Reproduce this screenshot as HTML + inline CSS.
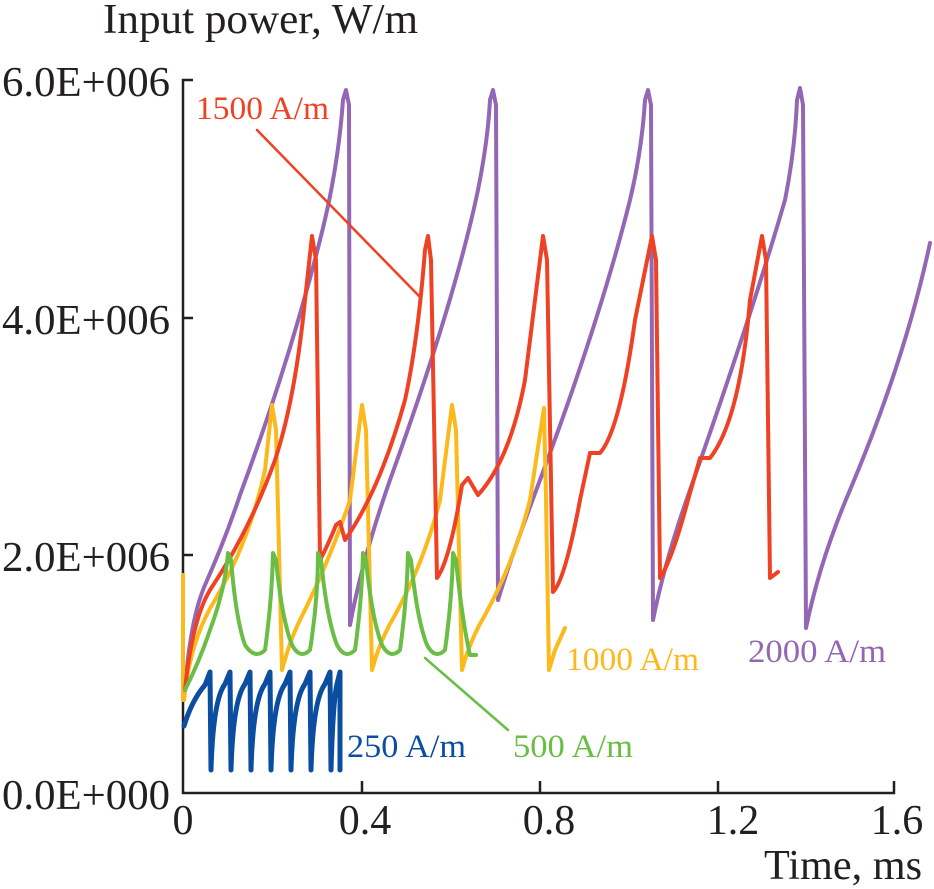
<!DOCTYPE html>
<html><head><meta charset="utf-8"><style>html,body{margin:0;padding:0;background:#fff}svg{display:block}text{font-family:"Liberation Serif",serif}</style></head>
<body>
<svg width="934" height="889" viewBox="0 0 934 889" xmlns="http://www.w3.org/2000/svg">
<rect width="934" height="889" fill="#fff"/>
<g stroke="#231f20" stroke-width="2.5" fill="none">
<path d="M193,80 H183 V793 H894 V781"/>
<path d="M183,318 H193 M183,555 H193 M362,793 V781 M540,793 V781 M718,793 V781"/>
</g>
<g font-size="42" fill="#231f20">
<text x="103" y="33" textLength="315" lengthAdjust="spacingAndGlyphs">Input power, W/m</text>
<text x="2" y="96" textLength="168" lengthAdjust="spacingAndGlyphs">6.0E+006</text>
<text x="2" y="334" textLength="168" lengthAdjust="spacingAndGlyphs">4.0E+006</text>
<text x="2" y="571" textLength="168" lengthAdjust="spacingAndGlyphs">2.0E+006</text>
<text x="2" y="809" textLength="168" lengthAdjust="spacingAndGlyphs">0.0E+000</text>
<text x="183" y="834" text-anchor="middle">0</text>
<text x="365" y="834" text-anchor="middle">0.4</text>
<text x="549" y="834" text-anchor="middle">0.8</text>
<text x="733" y="834" text-anchor="middle">1.2</text>
<text x="897" y="834" text-anchor="middle">1.6</text>
<text x="764" y="879" textLength="158" lengthAdjust="spacingAndGlyphs">Time, ms</text>
</g>
<g fill="none" stroke-linejoin="round" stroke-linecap="round">
<path stroke="#9467b4" stroke-width="4" d="M185,690 Q190,620 205,585 Q225,540 240,495 Q290,360 320,240 Q338,170 343,100 L346,90 L349,105 L350,625 Q362,560 390,480 Q455,300 478,190 Q488,140 490,100 L493,90 L496,105 L498,600 Q510,560 540,480 Q600,320 630,200 Q642,150 645,100 L648,90 L651,105 L653,620 Q665,560 690,490 Q750,320 785,200 Q795,150 797,100 L800,88 L803,105 L806,628 Q820,560 850,490 Q905,360 930,243"/>
<path stroke="#fcb91b" stroke-width="4" d="M183,575 L183,700 M184,700 Q190,640 215,600 Q250,540 265,470 L272,405 L276,430 L282,670 Q290,640 300,620 Q330,560 350,500 L362,405 L366,430 L372,670 Q380,640 395,615 Q425,560 440,500 L452,405 L456,430 L462,670 Q470,640 485,615 Q515,560 530,500 L544,408 L546,500 L549,670 L555,650 L565,628"/>
<path stroke="#ef4123" stroke-width="4" d="M185,690 Q192,620 210,590 Q250,530 275,460 Q295,400 305,300 L312,236 L316,260 L320,560 Q328,545 336,525 L340,522 L345,540 Q380,490 405,400 Q418,340 425,250 L428,236 L431,260 L437,578 Q450,560 462,485 L468,478 L478,495 Q510,460 525,380 L543,236 L547,260 L553,592 Q565,580 580,500 L590,453 L600,453 Q620,430 635,320 L652,236 L656,260 L660,578 Q672,560 688,500 L700,458 L710,458 Q740,420 750,300 L762,236 L766,260 L770,578 L778,572"/>
<path stroke="#6abd45" stroke-width="4" d="M185,690 Q200,660 210,630 Q225,590 228,553 L231,560 Q236,620 245,645 Q255,660 265,650 Q272,600 273,553 L276,560 Q282,620 292,645 Q300,660 310,650 Q318,600 318,553 L321,560 Q327,620 337,645 Q345,660 355,650 Q362,600 363,553 L366,560 Q372,620 382,645 Q390,660 400,650 Q407,600 408,553 L411,560 Q417,620 427,645 Q435,660 445,650 Q452,600 453,553 L456,560 Q462,620 470,655 L476,655"/>
<path stroke="#0b4da1" stroke-width="5" d="M184,726 Q192,700 205,685 L210,672 L211,770 Q213,700 225,684 L230,672 L231,770 Q233,700 245,684 L250,672 L251,770 Q253,700 265,684 L270,672 L271,770 Q273,700 285,684 L290,672 L291,770 Q293,700 305,684 L310,672 L311,770 Q313,700 325,684 L330,672 L331,770 Q333,700 337,684 L340,672 L340,770"/>
<path stroke="#ef4123" stroke-width="2.5" d="M257,130 L420,297"/>
<path stroke="#6abd45" stroke-width="2.5" d="M425,658 L508,730"/>
</g>
<g font-size="33">
<text x="196" y="119" fill="#ef4123" textLength="133" lengthAdjust="spacingAndGlyphs">1500 A/m</text>
<text x="566" y="670" fill="#fcb91b" textLength="133" lengthAdjust="spacingAndGlyphs">1000 A/m</text>
<text x="748" y="662" fill="#9467b4" textLength="138" lengthAdjust="spacingAndGlyphs">2000 A/m</text>
<text x="347" y="757" fill="#0b4da1" textLength="119" lengthAdjust="spacingAndGlyphs">250 A/m</text>
<text x="513" y="757" fill="#6abd45" textLength="120" lengthAdjust="spacingAndGlyphs">500 A/m</text>
</g>
</svg>
</body></html>
